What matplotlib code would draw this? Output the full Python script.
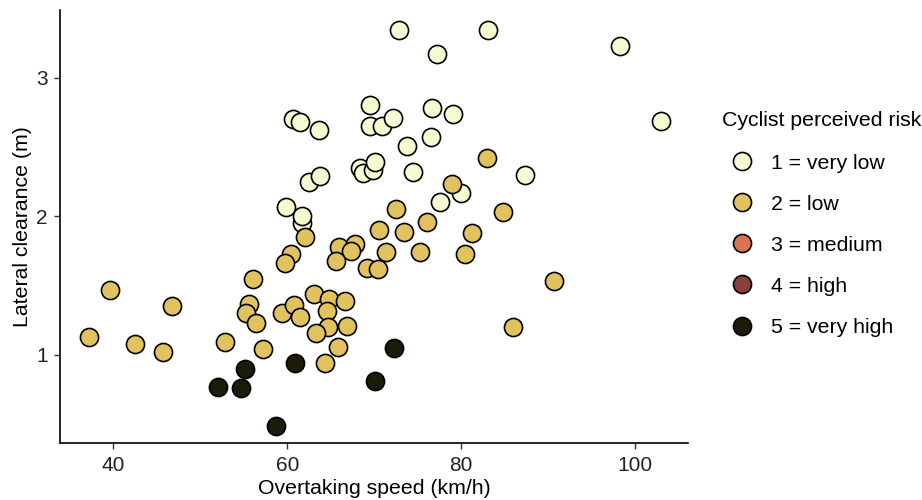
import matplotlib.pyplot as plt
from matplotlib.lines import Line2D

plt.rcParams['font.family'] = ['Liberation Sans', 'DejaVu Sans']

# risk level 1 = very low
speed_1 = [72.8, 83.1, 77.2, 98.3, 103.0, 69.5, 69.5, 70.9, 72.1, 76.65,
           79.0, 76.5, 73.8, 68.3, 68.7, 69.8, 70.1, 74.4, 87.3, 80.0,
           77.5, 60.6, 61.5, 63.6, 62.5, 63.8, 59.9, 61.7, 61.7]
clear_1 = [3.34, 3.34, 3.17, 3.23, 2.69, 2.80, 2.65, 2.65, 2.71, 2.78,
           2.74, 2.57, 2.51, 2.35, 2.31, 2.33, 2.39, 2.32, 2.30, 2.17,
           2.10, 2.70, 2.68, 2.62, 2.25, 2.29, 2.07, 1.95, 2.00]

# risk level 2 = low
speed_2 = [39.6, 37.2, 42.5, 45.7, 46.8, 62.0, 60.4, 59.75, 65.9, 67.8,
           67.3, 65.6, 69.2, 70.4, 71.3, 70.5, 56.0, 55.6, 55.3, 56.4,
           52.85, 57.2, 59.4, 60.8, 61.5, 63.1, 64.8, 64.6, 66.6, 64.7,
           63.3, 66.9, 65.8, 64.3, 73.4, 81.25, 75.2, 80.45, 90.6, 86.0,
           82.9, 78.9, 72.5, 84.8, 76.0]
clear_2 = [1.47, 1.13, 1.08, 1.02, 1.35, 1.85, 1.73, 1.66, 1.78, 1.80,
           1.75, 1.68, 1.63, 1.62, 1.74, 1.90, 1.55, 1.37, 1.30, 1.23,
           1.09, 1.04, 1.30, 1.36, 1.27, 1.44, 1.40, 1.32, 1.39, 1.20,
           1.16, 1.21, 1.06, 0.94, 1.89, 1.88, 1.74, 1.73, 1.53, 1.20,
           2.42, 2.23, 2.05, 2.03, 1.96]

# risk level 5 = very high
speed_5 = [55.1, 52.0, 54.7, 60.9, 58.7, 70.1, 72.3]
clear_5 = [0.90, 0.77, 0.76, 0.94, 0.49, 0.81, 1.05]

levels = ['1 = very low', '2 = low', '3 = medium', '4 = high', '5 = very high']
colors = ['#F6FBD2', '#E0C25E', '#DB7350', '#8C3E3D', '#1C1B08']

fig = plt.figure(figsize=(9.22, 5.0), dpi=100)
ax = fig.add_axes([0.0651, 0.1134, 0.6811, 0.8666])

msize = 170
ax.scatter(speed_1, clear_1, s=msize, c=colors[0], edgecolors='black', linewidths=1.2, zorder=3)
ax.scatter(speed_2, clear_2, s=msize, c=colors[1], edgecolors='black', linewidths=1.2, zorder=3)
ax.scatter(speed_5, clear_5, s=msize, c=colors[4], edgecolors='black', linewidths=1.2, zorder=3)

ax.set_xlim(33.87, 106.06)
ax.set_ylim(0.363, 3.487)
ax.set_xticks([40, 60, 80, 100])
ax.set_yticks([1, 2, 3])
ax.spines['top'].set_visible(False)
ax.spines['right'].set_visible(False)
for s in ['left', 'bottom']:
    ax.spines[s].set_linewidth(1.2)
ax.tick_params(labelsize=15, length=4, width=1, pad=5, color='#333333', labelcolor='#222222')
ax.set_xlabel('Overtaking speed (km/h)', fontsize=15.3, labelpad=3)
ax.set_ylabel('Lateral clearance (m)', fontsize=15.3, labelpad=3)

# legend: title as separate text so it sits left of the keys
fig.text(722 / 922, 1 - 120 / 500, 'Cyclist perceived risk', fontsize=15.3,
         ha='left', va='center')
handles = [Line2D([], [], linestyle='none', marker='o', markersize=13,
                  markerfacecolor=c, markeredgecolor='black', markeredgewidth=1.2)
           for c in colors]
leg = fig.legend(handles, levels, loc='upper left', bbox_to_anchor=(0.7787, 0.714),
                 frameon=False, fontsize=15.3, labelspacing=1.04, handletextpad=0.7,
                 borderpad=0, handlelength=1.3)

fig.savefig('out.png', dpi=100)
